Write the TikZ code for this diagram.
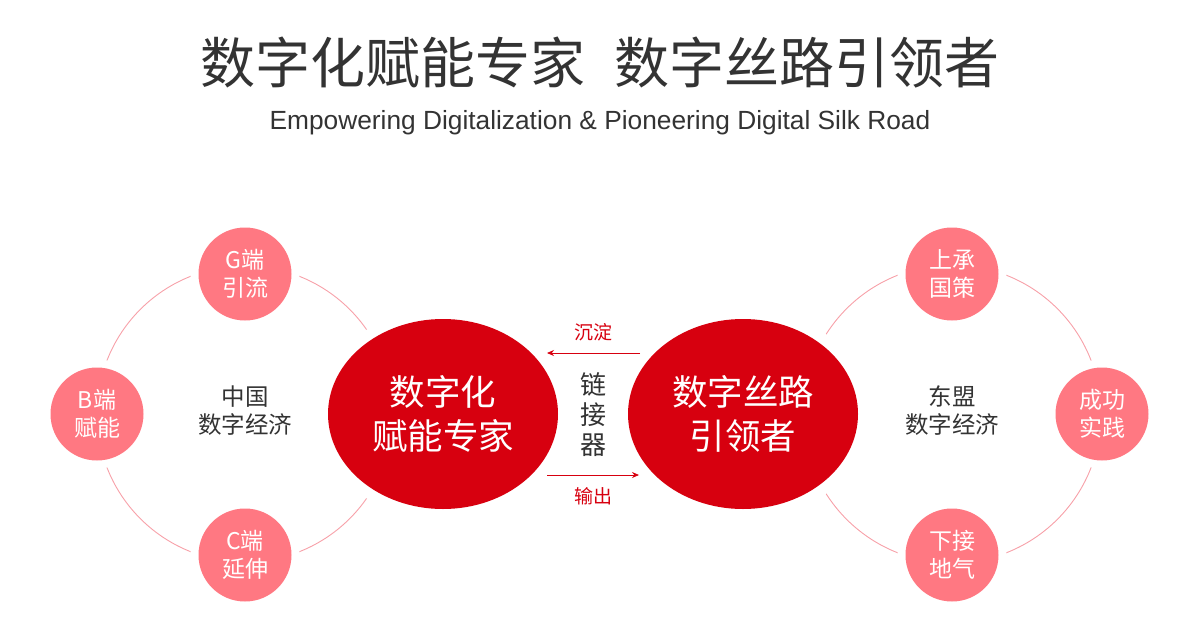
\documentclass[tikz,border=0pt]{standalone}
\usepackage{fontspec}
\setmainfont{Noto Sans CJK SC}
\newfontfamily\latinfont{Liberation Sans}
\usetikzlibrary{arrows.meta,shapes.geometric}
\definecolor{bigred}{HTML}{D7000F}
\definecolor{pinkc}{HTML}{FF7882}
\definecolor{ringc}{HTML}{F7A0A8}
\definecolor{darktxt}{HTML}{333333}
\tikzset{
  ringline/.style={draw=ringc, line width=0.9pt},
  bigell/.style={ellipse, fill=bigred, minimum width=230pt, minimum height=190pt, inner sep=0pt,
    preaction={draw=white, line width=22pt}, text=white, align=center,
    font=\fontsize{35.5}{44}\selectfont},
  smallc/.style={circle, fill=pinkc, minimum size=93pt, inner sep=0pt,
    preaction={draw=white, line width=16pt}, text=white, align=center,
    font=\fontsize{23}{28}\selectfont},
  midlabel/.style={text=darktxt, align=center, font=\fontsize{23.5}{28}\selectfont},
  flowarrow/.style={draw=bigred, line width=0.8pt, -{Stealth[length=7pt,width=6pt]}},
  flowlabel/.style={text=bigred, font=\fontsize{19}{22}\selectfont},
}
\begin{document}
\begin{tikzpicture}[x=1pt,y=-1pt]
\useasboundingbox (0,0) rectangle (1200,640);
% title
\node[text=darktxt, font=\fontsize{55}{60}\selectfont] (title) at (600,63) {数字化赋能专家\hspace{30pt}数字丝路引领者};
\node[text=darktxt, font=\latinfont\fontsize{26.3}{30}\selectfont] (subtitle) at (600,123) {Empowering Digitalization \& Pioneering Digital Silk Road};
% rings
\coordinate (lc) at (245,414);
\coordinate (rc) at (952,414);
\draw[ringline] (lc) circle[radius=148];
\draw[ringline] (rc) circle[radius=149];
% big ellipses
\node[bigell] (L) at (443,414) {数字化\\赋能专家};
\node[bigell] (R) at (743,414) {数字丝路\\引领者};
% small circles left
\node[smallc] (G) at (245,274) {G端\\引流};
\node[smallc] (B) at (97,414) {B端\\赋能};
\node[smallc] (C) at (245,555) {C端\\延伸};
% small circles right
\node[smallc] (U) at (952,274) {上承\\国策};
\node[smallc] (S) at (1102,414) {成功\\实践};
\node[smallc] (D) at (952,555) {下接\\地气};
% centre labels
\node[midlabel] (cn) at (245,411) {中国\\数字经济};
\node[midlabel] (asean) at (952,411) {东盟\\数字经济};
\node[text=darktxt, align=center, font=\fontsize{26}{30}\selectfont] (link) at (593,415) {链\\接\\器};
% arrows
\coordinate (t1) at (640,353);
\coordinate (t2) at (547,353);
\coordinate (b1) at (547,475);
\coordinate (b2) at (639,475);
\draw[flowarrow] (t1) -- (t2);
\draw[flowarrow] (b1) -- (b2);
\node[flowlabel] (chen) at (593,332) {沉淀};
\node[flowlabel] (shu) at (593,496) {输出};
\end{tikzpicture}
\end{document}
